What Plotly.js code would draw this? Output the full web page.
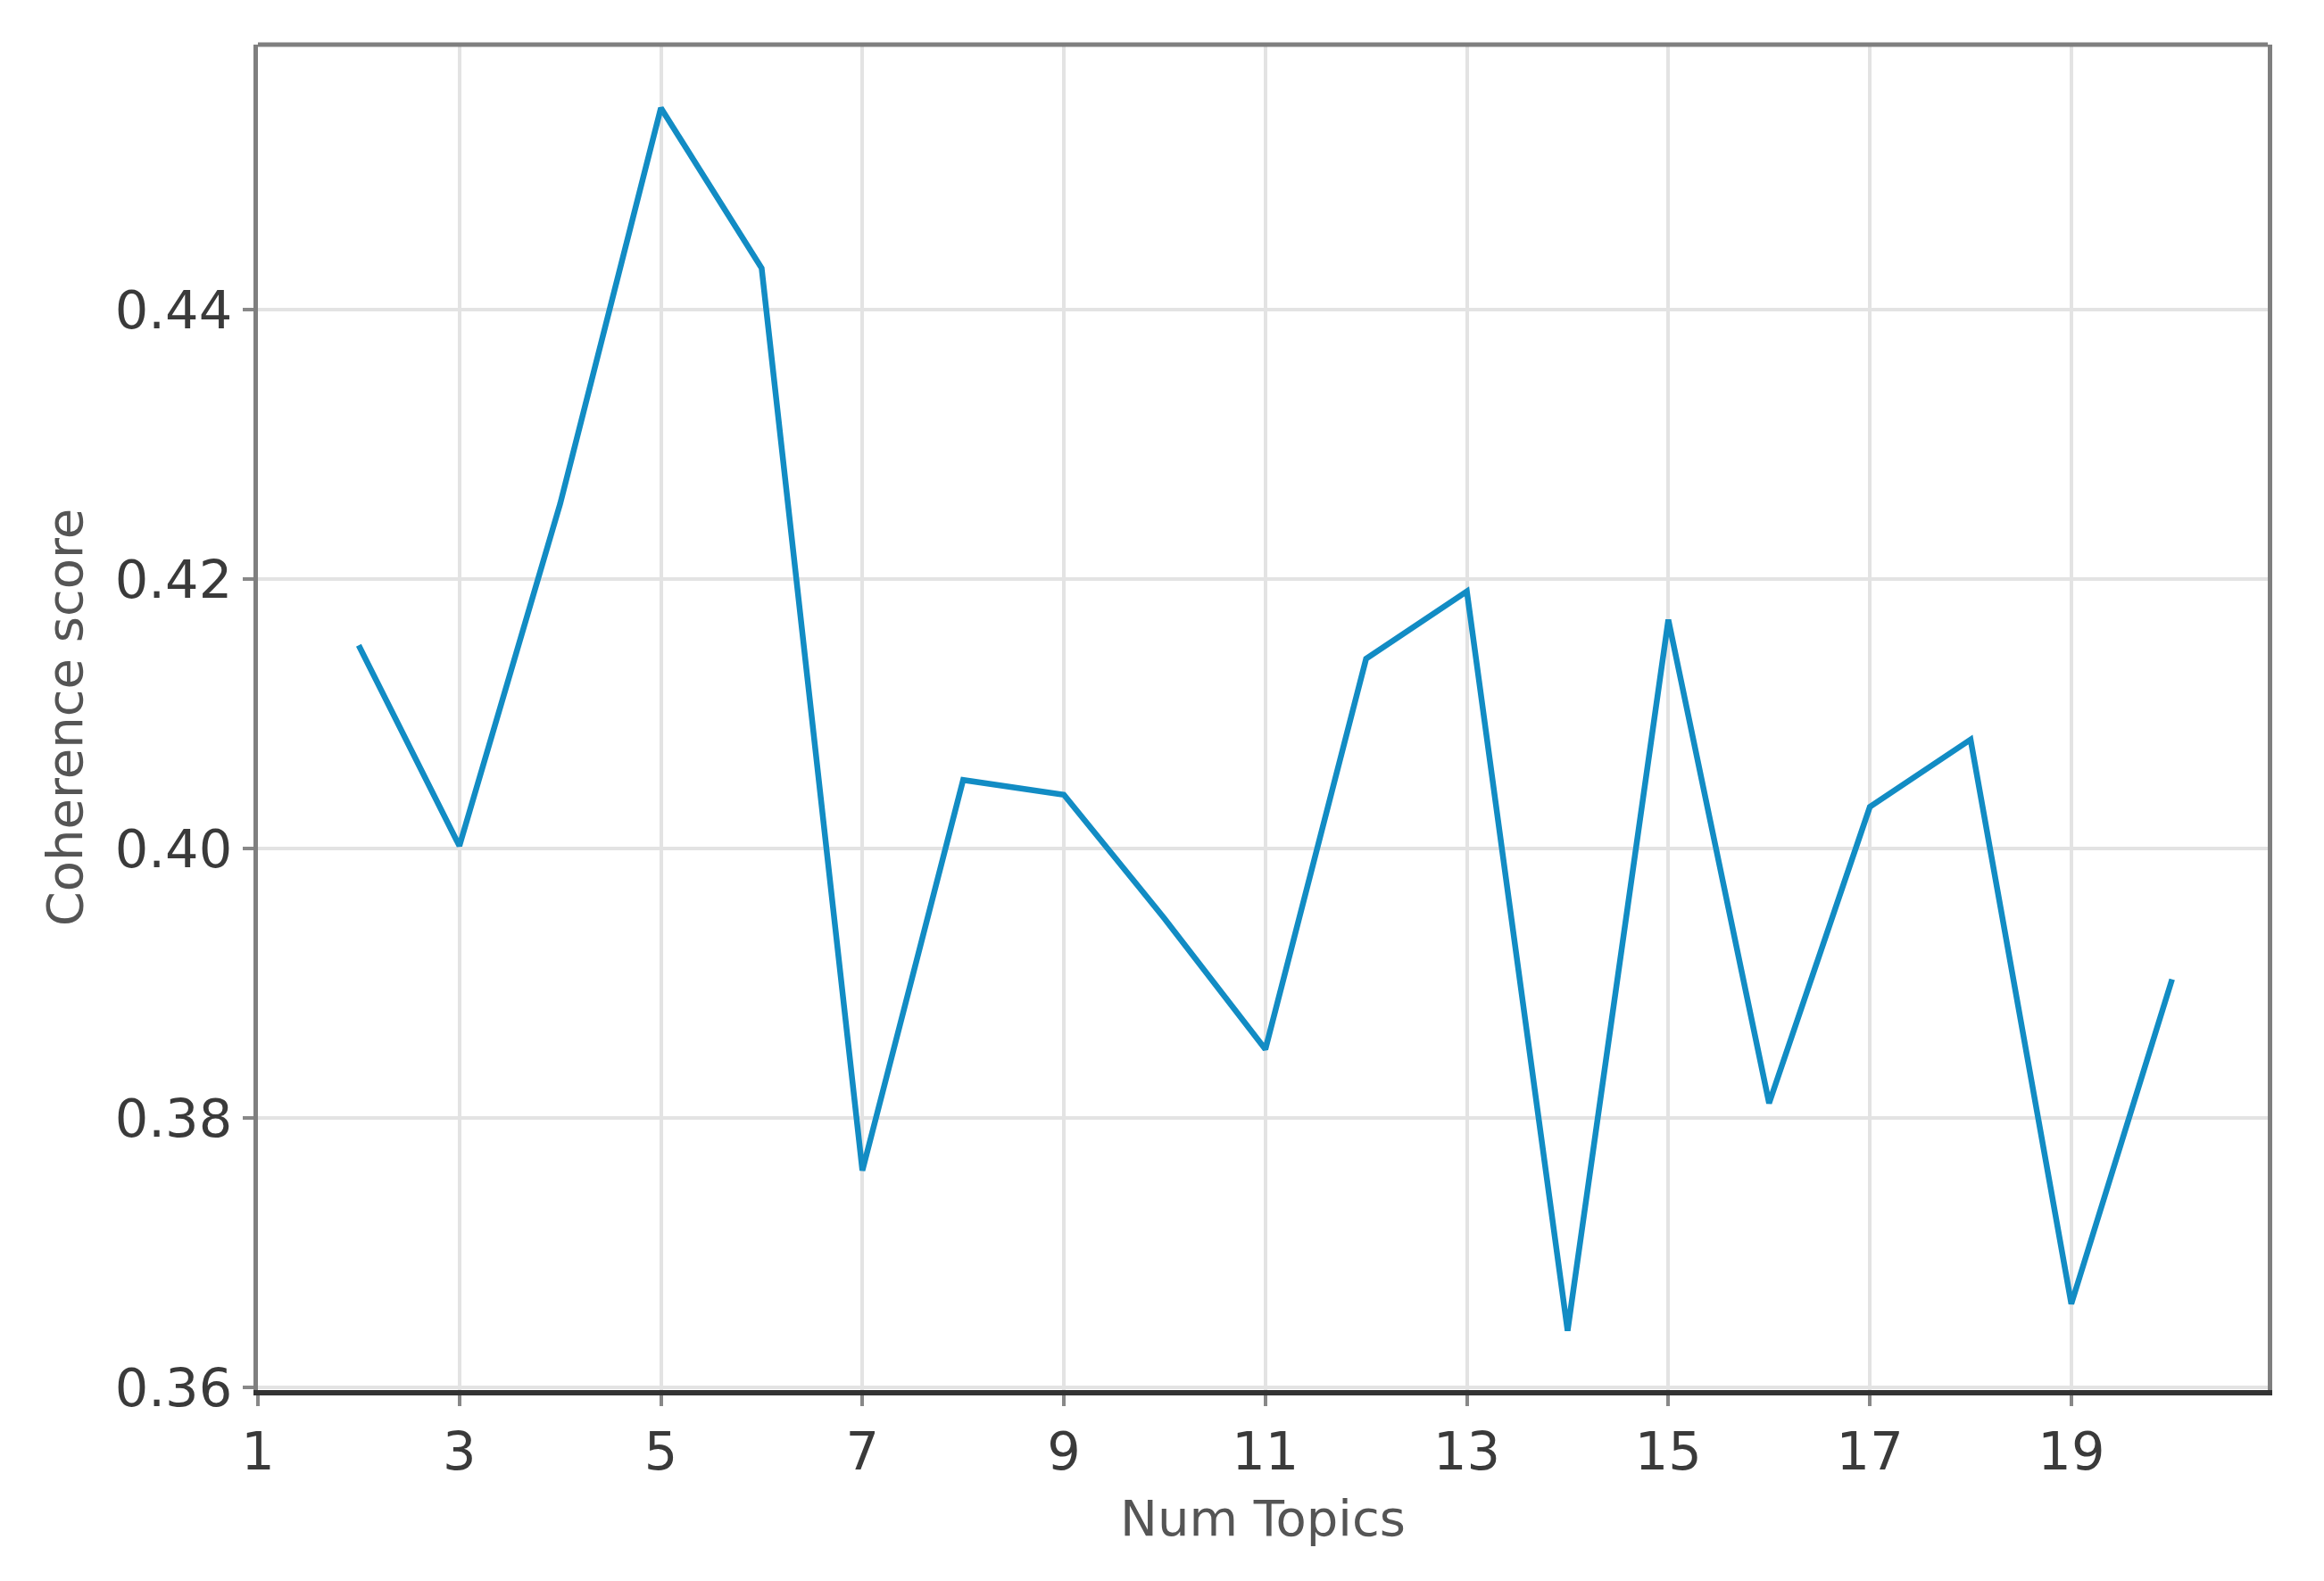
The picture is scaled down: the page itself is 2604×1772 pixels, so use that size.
<!DOCTYPE html>
<html>
<head>
<meta charset="utf-8">
<script src="https://cdn.plot.ly/plotly-3.0.1.min.js"></script>
<style>html,body{margin:0;padding:0;background:#fff;}#chart{width:2604px;height:1772px;}</style>
</head>
<body>
<div id="chart"></div>
<script>
const numTopics = [2,3,4,5,6,7,8,9,10,11,12,13,14,15,16,17,18,19,20];
const coherence = [0.4151,0.4002,0.4256,0.4550,0.4431,0.3761,0.4051,0.4040,0.3948,0.3851,0.4141,0.4191,0.3642,0.4170,0.3811,0.4031,0.4081,0.3662,0.3903];
const xTicks = [1,3,5,7,9,11,13,15,17,19];
const yTicks = [0.36,0.38,0.40,0.42,0.44];
const yTickLabels = ['0.36','0.38','0.40','0.42','0.44'];

const trace = {
  x: numTopics, y: coherence, type: 'scatter', mode: 'lines',
  line: {color: '#128cc4', width: 6.5}
};
const font = {family: 'DejaVu Sans, sans-serif'};
const layout = {
  width: 2604, height: 1772,
  margin: {l: 289, r: 63, t: 50, b: 214},
  paper_bgcolor: '#fff', plot_bgcolor: '#fff',
  showlegend: false,
  font: {family: 'DejaVu Sans, sans-serif', color: '#444'},
  xaxis: {
    range: [1, 20.95], tickvals: xTicks, ticktext: xTicks.map(String),
    showgrid: true, gridcolor: '#e3e3e3', gridwidth: 4, zeroline: false,
    showline: true, linecolor: '#333', linewidth: 6, mirror: false,
    ticks: 'outside', ticklen: 12, tickwidth: 4, tickcolor: '#888',
    tickfont: {family: font.family, size: 59, color: '#3a3a3a'},
    title: {text: 'Num Topics', font: {family: font.family, size: 56, color: '#555'}, standoff: 24}
  },
  yaxis: {
    range: [0.3598, 0.4597], tickvals: yTicks, ticktext: yTickLabels,
    showgrid: true, gridcolor: '#e3e3e3', gridwidth: 4, zeroline: false,
    showline: true, linecolor: '#7f7f7f', linewidth: 5, mirror: true,
    ticks: 'outside', ticklen: 12, tickwidth: 4, tickcolor: '#888',
    tickfont: {family: font.family, size: 59, color: '#3a3a3a'},
    title: {text: 'Coherence score', font: {family: font.family, size: 56, color: '#555'}, standoff: 20}
  },
  shapes: [{type: 'line', xref: 'paper', yref: 'paper', x0: 0, x1: 1, y0: 1, y1: 1,
            line: {color: '#7f7f7f', width: 5}}]
};
Plotly.newPlot('chart', [trace], layout, {displayModeBar: false, staticPlot: true});
</script>
</body>
</html>
